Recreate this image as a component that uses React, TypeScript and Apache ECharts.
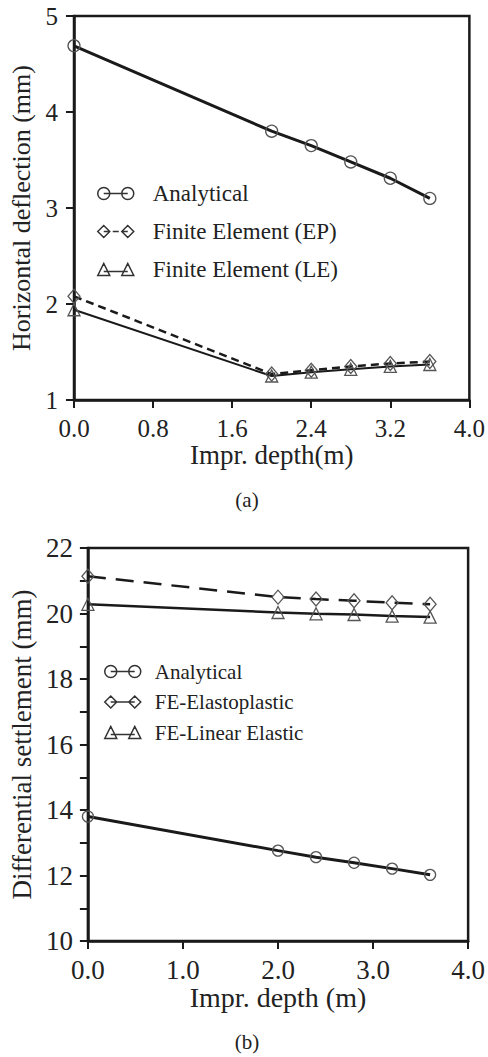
import React, { useEffect, useRef } from "react";
import * as echarts from "echarts";

// ---- Data ----
const depthsA: number[] = [0.0, 2.0, 2.4, 2.8, 3.2, 3.6];
const deflAnalytical: number[] = [4.69, 3.8, 3.65, 3.48, 3.31, 3.1];
const deflFEEP: number[] = [2.08, 1.27, 1.31, 1.35, 1.38, 1.4];
const deflFELE: number[] = [1.94, 1.25, 1.29, 1.32, 1.35, 1.37];

const depthsB: number[] = [0.0, 2.0, 2.4, 2.8, 3.2, 3.6];
const settAnalytical: number[] = [13.8, 12.76, 12.56, 12.39, 12.21, 12.02];
const settFEEP: number[] = [21.14, 20.5, 20.44, 20.39, 20.33, 20.28];
const settFELE: number[] = [20.28, 20.03, 19.99, 19.97, 19.92, 19.89];

const legendTop: string[] = ["Analytical", "Finite Element (EP)", "Finite Element (LE)"];
const legendBottom: string[] = ["Analytical", "FE-Elastoplastic", "FE-Linear Elastic"];

const FONT = "Liberation Serif";
const INK = "#1a1a1a";
const MARK = "#555";

const ICON_CIRCLE =
  "path://M12,6 A6,6 0 1 1 0,6 A6,6 0 1 1 12,6 Z M6,6 L30,6 M36,6 A6,6 0 1 1 24,6 A6,6 0 1 1 36,6 Z";
const ICON_DIAMOND_DASH =
  "path://M0,6 L6,0 L12,6 L6,12 Z M6,6 L12,6 M15,6 L21,6 M24,6 L30,6 M24,6 L30,0 L36,6 L30,12 Z";
const ICON_DIAMOND =
  "path://M0,6 L6,0 L12,6 L6,12 Z M6,6 L30,6 M24,6 L30,0 L36,6 L30,12 Z";
const ICON_TRIANGLE =
  "path://M0,12 L6,0 L12,12 Z M6,8 L30,8 M24,12 L30,0 L36,12 Z";

function pairs(xs: number[], ys: number[]) {
  return xs.map((x, i) => [x, ys[i]]);
}

export default function App() {
  const ref = useRef<HTMLDivElement>(null);

  useEffect(() => {
    document.body.style.margin = "0";
    if (!ref.current) return;
    const chart = echarts.init(ref.current, null, { renderer: "svg" });

    const axisLine = { show: true, lineStyle: { color: INK, width: 2.5 } };
    const axisTick = { show: true, length: 8, inside: false, lineStyle: { color: INK, width: 2 } };

    const option: any = {
      animation: false,
      backgroundColor: "#fff",
      textStyle: { fontFamily: FONT },
      grid: [
        { left: 74, top: 16, width: 396, height: 384, show: true, borderColor: INK, borderWidth: 2.5, backgroundColor: "transparent" },
        { left: 82, top: 548, width: 392, height: 393, show: true, borderColor: INK, borderWidth: 2.5, backgroundColor: "transparent" },
      ],
      xAxis: [
        {
          gridIndex: 0, type: "value", min: 0, max: 4, interval: 0.8,
          axisLine, axisTick, splitLine: { show: false },
          axisLabel: { color: "#222", fontSize: 25, fontFamily: FONT, margin: 16, formatter: (v: number) => v.toFixed(1) },
          name: "Impr. depth(m)", nameLocation: "middle", nameGap: 40,
          nameTextStyle: { color: "#222", fontSize: 27, fontFamily: FONT },
        },
        {
          gridIndex: 1, type: "value", min: 0, max: 4, interval: 1,
          axisLine, axisTick, splitLine: { show: false },
          axisLabel: { color: "#222", fontSize: 27, fontFamily: FONT, margin: 15, formatter: (v: number) => v.toFixed(1) },
          name: "Impr. depth (m)", nameLocation: "middle", nameGap: 42,
          nameTextStyle: { color: "#222", fontSize: 28, fontFamily: FONT },
        },
      ],
      yAxis: [
        {
          gridIndex: 0, type: "value", min: 1, max: 5, interval: 1,
          axisLine, axisTick, splitLine: { show: false },
          axisLabel: { color: "#222", fontSize: 25, fontFamily: FONT, margin: 16 },
          name: "Horizontal deflection (mm)", nameLocation: "middle", nameGap: 38,
          nameTextStyle: { color: "#222", fontSize: 26, fontFamily: FONT },
        },
        {
          gridIndex: 1, type: "value", min: 10, max: 22, interval: 1,
          axisLine, axisTick, splitLine: { show: false },
          axisLabel: {
            color: "#222", fontSize: 27, fontFamily: FONT, margin: 15,
            formatter: (v: number) => (v % 2 === 0 ? String(v) : ""),
          },
          name: "Differential settlement (mm)", nameLocation: "middle", nameGap: 46,
          nameTextStyle: { color: "#222", fontSize: 27, fontFamily: FONT },
        },
      ],
      legend: [
        {
          orient: "vertical", left: 92, top: 177, itemWidth: 36, itemHeight: 12, itemGap: 15,
          selectedMode: false,
          itemStyle: { color: "rgba(0,0,0,0)", borderColor: "#333", borderWidth: 1.5 },
          textStyle: { color: "#222", fontSize: 23, fontFamily: FONT, lineHeight: 23, padding: [0, 0, 0, 14] },
          data: [
            { name: legendTop[0], icon: ICON_CIRCLE },
            { name: legendTop[1], icon: ICON_DIAMOND_DASH },
            { name: legendTop[2], icon: ICON_TRIANGLE },
          ],
        },
        {
          orient: "vertical", left: 99, top: 656, itemWidth: 36, itemHeight: 12, itemGap: 9.5,
          selectedMode: false,
          itemStyle: { color: "rgba(0,0,0,0)", borderColor: "#333", borderWidth: 1.5 },
          textStyle: { color: "#222", fontSize: 21, fontFamily: FONT, lineHeight: 21, padding: [0, 0, 0, 9] },
          data: [
            { name: legendBottom[0], icon: ICON_CIRCLE },
            { name: legendBottom[1], icon: ICON_DIAMOND },
            { name: legendBottom[2], icon: ICON_TRIANGLE },
          ],
        },
      ],
      graphic: [
        { type: "text", x: 247, y: 500, style: { text: "(a)", fontSize: 21, fontFamily: FONT, fill: "#222", textAlign: "center", textVerticalAlign: "middle" } },
        { type: "text", x: 247, y: 1042, style: { text: "(b)", fontSize: 21, fontFamily: FONT, fill: "#222", textAlign: "center", textVerticalAlign: "middle" } },
      ],
      series: [
        {
          name: legendTop[0], type: "line", xAxisIndex: 0, yAxisIndex: 0,
          data: pairs(depthsA, deflAnalytical),
          symbol: "circle", symbolSize: 12,
          itemStyle: { color: "rgba(0,0,0,0)", borderColor: MARK, borderWidth: 1.3 },
          lineStyle: { color: INK, width: 3 },
          z: 3,
        },
        {
          name: legendTop[1], type: "line", xAxisIndex: 0, yAxisIndex: 0,
          data: pairs(depthsA, deflFEEP),
          symbol: "diamond", symbolSize: [12, 14],
          itemStyle: { color: "rgba(0,0,0,0)", borderColor: MARK, borderWidth: 1.3 },
          lineStyle: { color: INK, width: 2.5, type: [8, 5] },
          z: 2,
        },
        {
          name: legendTop[2], type: "line", xAxisIndex: 0, yAxisIndex: 0,
          data: pairs(depthsA, deflFELE),
          symbol: "triangle", symbolSize: 12,
          itemStyle: { color: "rgba(0,0,0,0)", borderColor: MARK, borderWidth: 1.3 },
          lineStyle: { color: INK, width: 2 },
          z: 2,
        },
        {
          name: legendBottom[0], type: "line", xAxisIndex: 1, yAxisIndex: 1,
          data: pairs(depthsB, settAnalytical),
          symbol: "circle", symbolSize: 11,
          itemStyle: { color: "rgba(0,0,0,0)", borderColor: MARK, borderWidth: 1.3 },
          lineStyle: { color: INK, width: 3 },
          z: 3,
        },
        {
          name: legendBottom[1], type: "line", xAxisIndex: 1, yAxisIndex: 1,
          data: pairs(depthsB, settFEEP),
          symbol: "diamond", symbolSize: [12, 14],
          itemStyle: { color: "rgba(0,0,0,0)", borderColor: MARK, borderWidth: 1.3 },
          lineStyle: { color: INK, width: 2.5, type: [18, 10] },
          z: 2,
        },
        {
          name: legendBottom[2], type: "line", xAxisIndex: 1, yAxisIndex: 1,
          data: pairs(depthsB, settFELE),
          symbol: "triangle", symbolSize: 12,
          itemStyle: { color: "rgba(0,0,0,0)", borderColor: MARK, borderWidth: 1.3 },
          lineStyle: { color: INK, width: 2.5 },
          z: 2,
        },
      ],
    };

    chart.setOption(option);
    return () => chart.dispose();
  }, []);

  return <div ref={ref} style={{ width: 488, height: 1057 }} />;
}
